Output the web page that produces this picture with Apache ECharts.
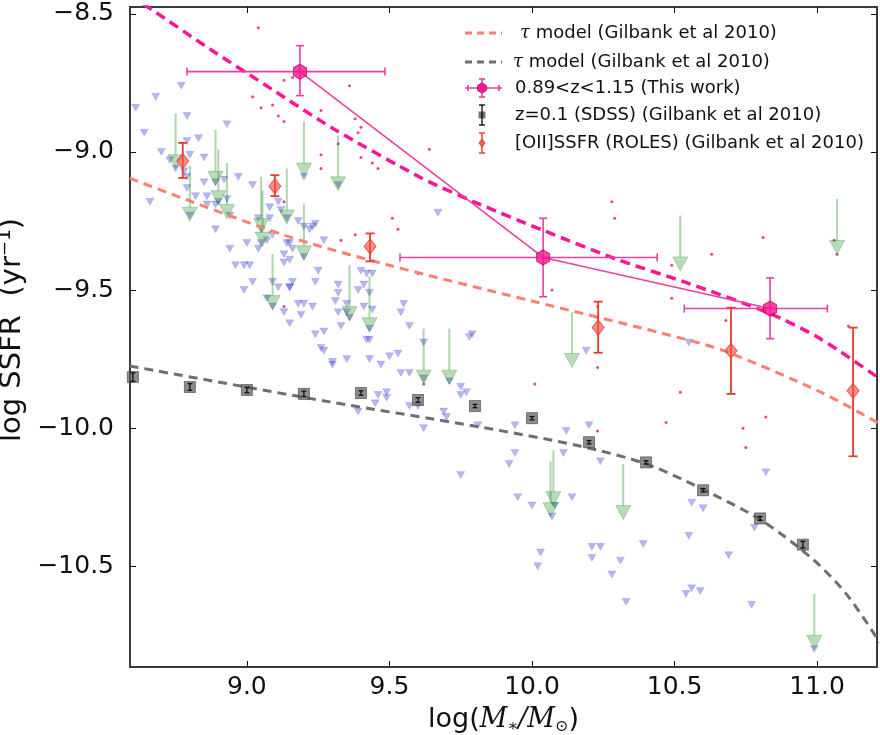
<!DOCTYPE html>
<html><head><meta charset="utf-8">
<script src="https://cdn.jsdelivr.net/npm/echarts@6/dist/echarts.min.js"></script>
<style>html,body{margin:0;padding:0;background:#fff}#c{width:880px;height:735px}</style>
</head><body><div id="c"></div>
<script>
// ---------- axis ticks ----------
const xTicks = [9.0, 9.5, 10.0, 10.5, 11.0];
const yTicks = [-10.5, -10.0, -9.5, -9.0, -8.5];

// ---------- 0.89<z<1.15 (This work) ----------
const workX   = [9.186, 10.039, 10.835];
const workY   = [-8.709, -9.382, -9.567];
const workXLo = [8.79, 9.537, 10.534];
const workXHi = [9.484, 10.439, 11.036];
const workYLo = [-8.796, -9.524, -9.676];
const workYHi = [-8.615, -9.24, -9.456];

// ---------- z=0.1 SDSS (Gilbank et al 2010) ----------
const sdssX   = [8.6, 8.8, 9.0, 9.2, 9.4, 9.6, 9.8, 10.0, 10.2, 10.4, 10.6, 10.8, 10.95];
const sdssY   = [-9.815, -9.851, -9.862, -9.876, -9.873, -9.898, -9.92, -9.964, -10.051, -10.124, -10.225, -10.327, -10.422];
const sdssErr = [0.015, 0.012, 0.01, 0.01, 0.008, 0.008, 0.006, 0.006, 0.006, 0.006, 0.006, 0.007, 0.012];

// ---------- [OII] SSFR ROLES (Gilbank et al 2010) ----------
const rolesX   = [8.775, 9.098, 9.432, 10.232, 10.698, 11.126];
const rolesY   = [-9.033, -9.124, -9.342, -9.636, -9.72, -9.865];
const rolesYLo = [-9.094, -9.16, -9.396, -9.727, -9.876, -10.102];
const rolesYHi = [-8.967, -9.084, -9.295, -9.542, -9.564, -9.636];

// ---------- tau model curves ----------
const tauPinkX = [8.589, 8.670, 8.870, 9.091, 9.302, 9.614, 9.807, 10.039, 10.309, 10.544, 10.835, 11.011, 11.221];
const tauPinkY = [-8.433, -8.487, -8.627, -8.775, -8.915, -9.095, -9.185, -9.284, -9.393, -9.474, -9.585, -9.676, -9.822];
const tauSalmonX = [8.589, 9.133, 9.502, 9.993, 10.519, 10.684, 11.011, 11.221];
const tauSalmonY = [-9.095, -9.302, -9.411, -9.538, -9.673, -9.724, -9.869, -9.985];
const tauGrayX = [8.589, 9.291, 9.818, 10.168, 10.404, 10.635, 10.811, 10.986, 11.105, 11.221];
const tauGrayY = [-9.775, -9.905, -9.996, -10.065, -10.131, -10.24, -10.338, -10.476, -10.604, -10.778];

// ---------- upper limits (green arrows): x, upper-limit value ----------
const limitX = [8.75, 8.80, 8.89, 8.90, 8.93, 9.05, 9.055, 9.14, 9.20, 9.32, 9.20, 9.09, 9.36, 9.43, 9.62, 9.71, 10.14, 10.52, 11.07, 10.075, 10.065, 10.32, 10.99];
const limitY = [-8.86, -9.05, -8.92, -8.99, -9.04, -9.09, -9.14, -9.06, -8.89, -8.94, -9.19, -9.37, -9.41, -9.45, -9.64, -9.64, -9.58, -9.23, -9.17, -10.08, -10.12, -10.13, -10.60];
const ARROW_LEN = 0.15;

// ---------- small blue triangles: [logM, logSSFR] ----------
const bluePts = [
 [8.77,-8.76],[8.68,-8.80],[8.61,-8.84],[8.79,-8.87],[8.93,-8.90],[8.64,-8.93],[8.79,-8.96],[8.83,-8.95],
 [8.70,-9.00],[8.80,-9.01],[8.73,-9.03],[8.85,-9.02],[8.75,-9.06],[8.78,-9.07],[8.79,-9.09],[8.85,-9.11],
 [8.92,-9.10],[8.97,-9.09],[9.02,-9.12],[8.79,-9.13],[8.82,-9.16],[8.86,-9.16],[8.66,-9.18],[8.86,-9.19],
 [8.89,-9.19],[8.93,-9.17],[8.94,-9.23],[9.08,-9.20],[9.11,-9.18],[9.12,-9.21],[9.20,-9.09],[9.32,-9.12],
 [8.89,-9.28],[8.94,-9.35],[9.00,-9.33],[9.04,-9.24],[9.08,-9.24],[9.09,-9.30],[9.15,-9.33],[9.18,-9.25],
 [9.20,-9.27],[9.22,-9.28],[9.23,-9.27],[9.24,-9.26],[9.27,-9.32],[9.04,-9.35],[9.07,-9.32],[8.96,-9.41],
 [8.99,-9.41],[9.01,-9.41],[8.99,-9.50],[9.02,-9.47],[9.13,-9.37],[9.13,-9.40],[9.14,-9.33],[9.16,-9.35],
 [9.15,-9.39],[9.16,-9.47],[9.15,-9.49],[9.25,-9.43],[9.18,-9.55],[9.20,-9.55],[9.23,-9.56],[9.19,-9.59],
 [9.15,-9.62],[9.13,-9.58],[9.07,-9.53],[9.09,-9.47],[9.11,-9.49],[9.15,-9.49],[9.24,-9.47],[9.24,-9.66],
 [9.27,-9.65],[9.26,-9.71],[9.27,-9.72],[9.30,-9.76],[9.30,-9.77],[9.35,-9.75],[9.32,-9.48],[9.32,-9.51],
 [9.31,-9.54],[9.32,-9.58],[9.33,-9.63],[9.35,-9.58],[9.36,-9.60],[9.35,-9.55],[9.40,-9.43],[9.42,-9.44],
 [9.44,-9.44],[9.41,-9.48],[9.39,-9.50],[9.43,-9.51],[9.41,-9.56],[9.44,-9.57],[9.43,-9.64],[9.42,-9.68],
 [9.43,-9.68],[9.43,-9.75],[9.47,-9.77],[9.50,-9.74],[9.53,-9.73],[9.54,-9.80],[9.57,-9.80],[9.54,-9.58],
 [9.55,-9.55],[9.57,-9.63],[9.62,-9.69],[9.67,-9.22],[9.78,-9.67],[9.79,-9.66],[9.49,-9.87],[9.49,-9.89],
 [9.46,-9.88],[9.45,-9.91],[9.39,-9.94],[9.57,-9.92],[9.60,-9.92],[9.62,-10.00],[9.69,-9.94],[9.70,-9.96],
 [9.75,-9.85],[9.77,-9.87],[9.75,-9.88],[9.71,-9.83],[9.81,-9.99],[9.94,-9.99],[9.94,-10.09],[9.92,-10.13],
 [9.75,-10.17],[9.95,-10.25],[10.00,-10.28],[10.12,-10.01],[10.20,-9.99],[10.19,-9.72],[10.11,-10.09],[10.24,-10.12],
 [10.14,-10.25],[10.03,-10.45],[10.02,-10.50],[10.21,-10.43],[10.24,-10.43],[10.21,-10.47],[10.31,-10.48],[10.28,-10.53],
 [10.33,-10.63],[10.39,-10.42],[10.55,-10.39],[10.56,-10.27],[10.60,-10.29],[10.69,-10.46],[10.54,-10.60],[10.56,-10.58],
 [10.59,-10.59],[10.77,-10.64],[10.78,-10.36],[10.82,-10.16],[10.55,-9.69],[10.07,-10.32],[10.08,-10.28],[10.99,-10.80],
 [8.80,-9.23],[8.89,-9.11],[8.90,-9.18],[9.05,-9.28],[9.05,-9.33],[9.14,-9.24],[9.20,-9.38],[9.09,-9.56],[9.62,-9.82]
];

// ---------- small red dots: [logM, logSSFR] ----------
const redPts = [
 [9.04,-8.55],[9.13,-8.74],[9.16,-8.73],[9.02,-8.80],[9.09,-8.83],[9.05,-8.84],[9.11,-8.87],[9.13,-8.89],
 [9.26,-8.85],[9.36,-8.76],[9.38,-8.88],[9.40,-8.91],[9.39,-8.93],[9.32,-8.97],[9.26,-9.01],[9.26,-9.06],
 [9.40,-9.02],[9.44,-9.04],[9.46,-9.06],[9.51,-9.24],[9.53,-9.28],[9.33,-9.32],[9.38,-9.30],[9.13,-9.18],
 [9.13,-9.56],[9.60,-9.44],[9.62,-9.84],[10.07,-9.50],[10.23,-9.56],[10.23,-9.60],[10.23,-9.78],[10.01,-9.84],
 [10.49,-9.53],[10.47,-9.98],[10.52,-9.87],[10.23,-10.01],[10.81,-9.31],[10.63,-9.37],[10.49,-9.41],[10.68,-9.61],
 [10.74,-10.00],[10.75,-10.07],[10.82,-9.96],[11.06,-9.32],[11.07,-9.37],[11.11,-9.63],[10.18,-8.85],[10.28,-9.18],
 [10.29,-9.24],[9.64,-8.99]
];

// ---------- styles ----------
const PINK = '#e8409f';
const PINK_FILL = '#ff1493';
const SALMON = '#fa8072';
const GRAY = '#6e6e6e';
const RED = '#e8392f';
const FONT = 'DejaVu Sans';
const HEX = 'path://M0,-1L0.866,-0.5L0.866,0.5L0,1L-0.866,0.5L-0.866,-0.5Z';

const zip = (a, b) => a.map((v, i) => [v, b[i]]);
const fmt = v => (v < 0 ? '\u2212' : '') + Math.abs(v).toFixed(1);

function ln(x1, y1, x2, y2, style) {
  return { type: 'line', shape: { x1, y1, x2, y2 }, style };
}

function workErr(params, api) {
  const x = api.value(0), y = api.value(1);
  const l = api.coord([api.value(2), y]);
  const r = api.coord([api.value(3), y]);
  const b = api.coord([x, api.value(4)]);
  const t = api.coord([x, api.value(5)]);
  const st = { stroke: PINK, lineWidth: 1.6 };
  const cap = 4;
  return { type: 'group', children: [
    ln(l[0], l[1], r[0], r[1], st),
    ln(l[0], l[1] - cap, l[0], l[1] + cap, st),
    ln(r[0], r[1] - cap, r[0], r[1] + cap, st),
    ln(b[0], b[1], t[0], t[1], st),
    ln(b[0] - cap, b[1], b[0] + cap, b[1], st),
    ln(t[0] - cap, t[1], t[0] + cap, t[1], st)
  ]};
}

function vErr(color, cap, lw) {
  return function (params, api) {
    const x = api.value(0);
    const b = api.coord([x, api.value(2)]);
    const t = api.coord([x, api.value(3)]);
    const st = { stroke: color, lineWidth: lw };
    return { type: 'group', children: [
      ln(b[0], b[1], t[0], t[1], st),
      ln(b[0] - cap, b[1], b[0] + cap, b[1], st),
      ln(t[0] - cap, t[1], t[0] + cap, t[1], st)
    ]};
  };
}

function arrowItem(params, api) {
  const x = api.value(0), y = api.value(1);
  const top = api.coord([x, y]);
  const end = api.coord([x, y - ARROW_LEN]);
  return { type: 'group', children: [
    ln(top[0], top[1], end[0], end[1], { stroke: 'rgba(0,128,0,0.32)', lineWidth: 2 }),
    { type: 'polygon', shape: { points: [[end[0] - 7.5, end[1]], [end[0] + 7.5, end[1]], [end[0], end[1] + 14]] },
      style: { fill: 'rgba(0,128,0,0.28)', stroke: 'rgba(0,128,0,0.25)', lineWidth: 1 } }
  ]};
}

const workData = workX.map((v, i) => [v, workY[i], workXLo[i], workXHi[i], workYLo[i], workYHi[i]]);
const sdssData = sdssX.map((v, i) => [v, sdssY[i], sdssY[i] - sdssErr[i], sdssY[i] + sdssErr[i]]);
const rolesData = rolesX.map((v, i) => [v, rolesY[i], rolesYLo[i], rolesYHi[i]]);
const limitData = zip(limitX, limitY);

// ---------- legend (drawn as graphics) ----------
const LX1 = 465, LX2 = 502, LXC = 482;
const rows = [33, 62, 88, 115, 143];
const legendText = [
  '{t|\u03c4} model (Gilbank et al 2010)',
  '{t|\u03c4} model (Gilbank et al 2010)',
  '0.89<z<1.15 (This work)',
  'z=0.1 (SDSS) (Gilbank et al 2010)',
  '[OII]SSFR (ROLES) (Gilbank et al 2010)'
];
const legendTextX = [520, 513, 515, 515, 515];
const graphic = [];
graphic.push(ln(LX1, rows[0], LX2, rows[0], { stroke: SALMON, lineWidth: 3, lineDash: [7, 5] }));
graphic.push(ln(LX1, rows[1], LX2, rows[1], { stroke: GRAY, lineWidth: 3, lineDash: [7, 5] }));
const pst = { stroke: PINK, lineWidth: 1.6 };
graphic.push(ln(LX1, rows[2], LX2, rows[2], pst));
graphic.push(ln(LX1 + 3, rows[2] - 3, LX1 + 3, rows[2] + 3, pst));
graphic.push(ln(LX2 - 3, rows[2] - 3, LX2 - 3, rows[2] + 3, pst));
graphic.push(ln(LXC, rows[2] - 9, LXC, rows[2] + 9, pst));
graphic.push(ln(LXC - 3, rows[2] - 9, LXC + 3, rows[2] - 9, pst));
graphic.push(ln(LXC - 3, rows[2] + 9, LXC + 3, rows[2] + 9, pst));
graphic.push({ type: 'polygon', shape: { points: [[LXC, rows[2] - 5], [LXC + 4.3, rows[2] - 2.5], [LXC + 4.3, rows[2] + 2.5], [LXC, rows[2] + 5], [LXC - 4.3, rows[2] + 2.5], [LXC - 4.3, rows[2] - 2.5]] },
  style: { fill: PINK_FILL, stroke: '#b0106a', lineWidth: 1 } });
const kst = { stroke: '#111', lineWidth: 1.4 };
graphic.push({ type: 'rect', shape: { x: LXC - 3.5, y: rows[3] - 3.5, width: 7, height: 7 }, style: { fill: '#777' } });
graphic.push(ln(LXC, rows[3] - 10, LXC, rows[3] + 10, kst));
graphic.push(ln(LXC - 3, rows[3] - 10, LXC + 3, rows[3] - 10, kst));
graphic.push(ln(LXC - 3, rows[3] + 10, LXC + 3, rows[3] + 10, kst));
const rst = { stroke: RED, lineWidth: 1.4 };
graphic.push(ln(LXC, rows[4] - 10, LXC, rows[4] + 10, rst));
graphic.push(ln(LXC - 3, rows[4] - 10, LXC + 3, rows[4] - 10, rst));
graphic.push(ln(LXC - 3, rows[4] + 10, LXC + 3, rows[4] + 10, rst));
graphic.push({ type: 'polygon', shape: { points: [[LXC, rows[4] - 4], [LXC + 3, rows[4]], [LXC, rows[4] + 4], [LXC - 3, rows[4]]] },
  style: { fill: '#f06050', stroke: RED, lineWidth: 1 } });
legendText.forEach((t, i) => {
  graphic.push({ type: 'text', x: legendTextX[i], y: rows[i], z: 100,
    style: { text: t, fill: '#111', font: '18px "DejaVu Sans"', verticalAlign: 'middle', align: 'left',
      rich: { t: { fontFamily: 'DejaVu Serif', fontStyle: 'italic', fontSize: 18, fill: '#111' } } } });
});

const axisBase = (pos, ticks, isX) => ({
  type: 'value',
  position: pos,
  min: isX ? 8.59 : -10.865,
  max: isX ? 11.21 : -8.475,
  splitLine: { show: false },
  axisLine: { show: false },
  axisTick: { show: true, inside: true, length: 6, customValues: ticks, lineStyle: { color: '#111', width: 1 } },
  axisLabel: { show: false, customValues: ticks }
});

const xMain = Object.assign(axisBase('bottom', xTicks, true), {
  axisLabel: { show: true, customValues: xTicks, formatter: fmt, fontFamily: FONT, fontSize: 25, color: '#111', margin: 8 },
  name: '{n|log(}{i|M}{s|\u2217}{i|/M}{s|\u2299}{n|)}',
  nameLocation: 'middle', nameGap: 31,
  nameTextStyle: {
    rich: {
      n: { fontFamily: FONT, fontSize: 27, color: '#111', lineHeight: 34 },
      i: { fontFamily: 'DejaVu Serif', fontStyle: 'italic', fontSize: 27, color: '#111', lineHeight: 34 },
      s: { fontFamily: 'DejaVu Serif', fontSize: 16, color: '#111', lineHeight: 34, padding: [14, 0, 0, 0] }
    }
  }
});
const yMain = Object.assign(axisBase('left', yTicks, false), {
  axisLabel: { show: true, customValues: yTicks, formatter: fmt, fontFamily: FONT, fontSize: 25, color: '#111', margin: 16 },
  name: 'log SSFR  (yr\u207b\u00b9)',
  nameLocation: 'middle', nameGap: 61, nameRotate: 90,
  nameTextStyle: { fontFamily: FONT, fontSize: 29, color: '#111', padding: [0, 0, 0, 14] }
});

const option = {
  backgroundColor: '#fff',
  animation: false,
  grid: { left: 130, right: 3, top: 7, bottom: 68, containLabel: false, outerBoundsMode: 'none',
    show: true, borderColor: '#3a3a3a', borderWidth: 2, backgroundColor: 'transparent' },
  xAxis: [xMain, axisBase('top', xTicks, true)],
  yAxis: [yMain, axisBase('right', yTicks, false)],
  graphic: graphic,
  series: [
    { name: 'blue limits', type: 'scatter', data: bluePts, symbol: 'triangle', symbolRotate: 180, symbolSize: [8, 7], z: 1,
      itemStyle: { color: 'rgba(40,40,210,0.42)', borderColor: 'rgba(40,40,200,0.3)', borderWidth: 0.6 } },
    { name: 'red dots', type: 'scatter', data: redPts, symbol: 'circle', symbolSize: 3, z: 2,
      itemStyle: { color: '#e2146e' } },
    { name: 'upper limits', type: 'custom', data: limitData, renderItem: arrowItem, z: 3, clip: true,
      encode: { x: 0, y: 1 } },
    { name: 'tau salmon', type: 'line', data: zip(tauSalmonX, tauSalmonY), smooth: 0.3, showSymbol: false, z: 4,
      lineStyle: { color: SALMON, width: 3, type: [9, 6] } },
    { name: 'tau gray', type: 'line', data: zip(tauGrayX, tauGrayY), smooth: 0.3, showSymbol: false, z: 4,
      lineStyle: { color: GRAY, width: 3, type: [9, 6] } },
    { name: 'tau pink', type: 'line', data: zip(tauPinkX, tauPinkY), smooth: 0.25, showSymbol: false, z: 4,
      lineStyle: { color: PINK_FILL, width: 3.5, type: [10, 6] } },
    { name: 'sdss', type: 'scatter', data: zip(sdssX, sdssY), symbol: 'rect', symbolSize: 11, z: 5,
      itemStyle: { color: 'rgba(90,90,90,0.85)', borderColor: '#444', borderWidth: 0.8 } },
    { name: 'sdss err', type: 'custom', data: sdssData, renderItem: vErr('#111', 2.5, 1.3), z: 6, encode: { x: 0, y: 1 } },
    { name: 'roles err', type: 'custom', data: rolesData, renderItem: vErr(RED, 4.5, 1.8), z: 7, encode: { x: 0, y: 1 } },
    { name: 'roles', type: 'scatter', data: zip(rolesX, rolesY), symbol: 'diamond', symbolSize: [12, 15], z: 8,
      itemStyle: { color: 'rgba(245,80,70,0.8)', borderColor: RED, borderWidth: 1 } },
    { name: 'this work line', type: 'line', data: zip(workX, workY), showSymbol: false, z: 9,
      lineStyle: { color: PINK, width: 1.6 } },
    { name: 'this work err', type: 'custom', data: workData, renderItem: workErr, z: 9, encode: { x: 0, y: 1 } },
    { name: 'this work', type: 'scatter', data: zip(workX, workY), symbol: HEX, symbolSize: [13, 15], z: 10,
      itemStyle: { color: PINK_FILL, borderColor: '#a80d5e', borderWidth: 1 } }
  ]
};

const chart = echarts.init(document.getElementById('c'));
chart.setOption(option);
</script>
</body></html>
